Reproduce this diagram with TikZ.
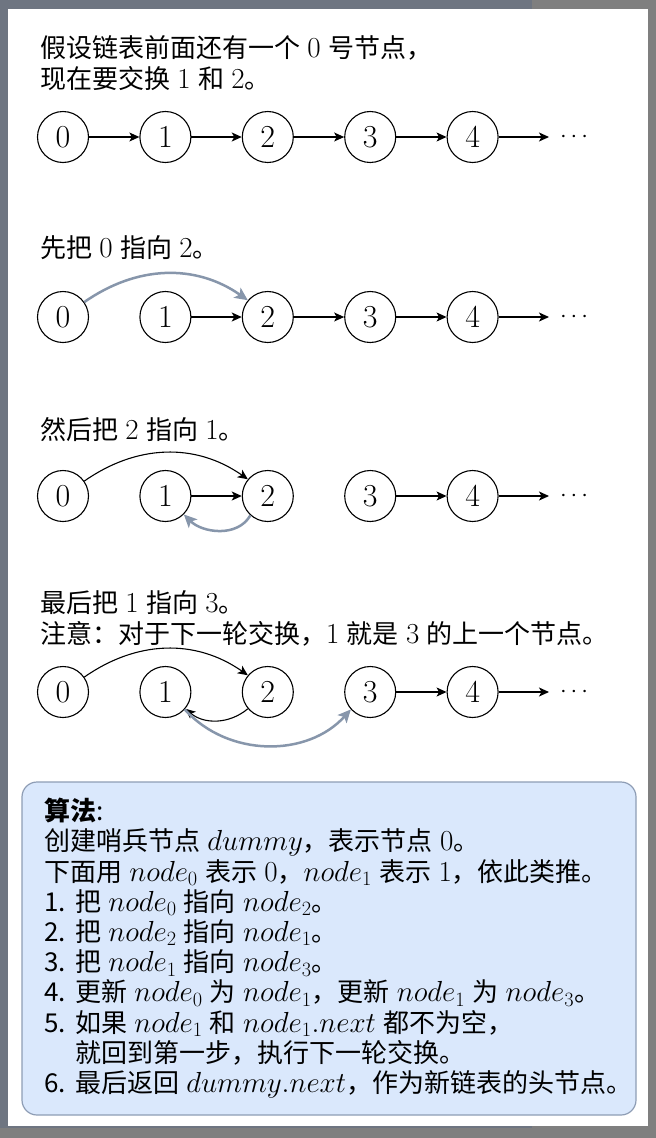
\RequirePackage{fix-cm}
\documentclass[tikz,border=0pt]{standalone}
\usepackage[no-math]{fontspec}
\setmainfont{Noto Sans CJK SC}[WordSpace=1.25]
\usetikzlibrary{arrows.meta, positioning}
\DeclareMathSizes{26}{29}{20.3}{14.5}

\definecolor{cGrayArrow}{HTML}{8796AB}
\definecolor{cBoxFill}{HTML}{DAE8FC}
\definecolor{cBoxLine}{HTML}{8E9DB5}
\definecolor{cBgLeft}{HTML}{6E7581}
\definecolor{cBgRight}{HTML}{7F7F7F}

\tikzset{
  lnode/.style={draw, circle, minimum size=51pt, inner sep=0pt, line width=1.1pt,
    font=\fontsize{32}{32}\selectfont},
  larrow/.style={line width=1.1pt, -{Stealth[length=10pt,width=9pt,inset=2.5pt]}},
  garrow/.style={cGrayArrow, line width=2.5pt, -{Stealth[length=13pt,width=12pt,inset=3pt]}},
  ltext/.style={anchor=north west, inner sep=0pt, align=left,
    font=\fontsize{26}{31.7}\selectfont},
}

\begin{document}
\begin{tikzpicture}[x=1pt, y=1pt]
  \useasboundingbox (0,0) rectangle (656,-1138);
  %背景与白色面板
  \fill[cBgRight] (0,0) rectangle (656,-1138);
  \fill[cBgLeft] (0,0) rectangle (532,-1128);
  \fill[white] (8,-9) rectangle (648,-1126);

  %四行链表节点
  \foreach \r/\yy in {1/-137, 2/-317, 3/-496, 4/-692}
  {
    \foreach \i in {0,...,4}
    {
      \node[lnode] (n\r\i) at ({63+102.4*\i}, \yy) {$\i$};
    }
    \coordinate (e\r) at (549,\yy);
    \node[font=\fontsize{24}{24}\selectfont] (d\r) at (574,\yy) {$\cdots$};
    \draw[larrow] (n\r4) -- (e\r);
  };

  %说明文字
  \node[ltext] (t1) at (40,-35) {假设链表前面还有一个 $0$ 号节点，\\现在要交换 $1$ 和 $2$。};
  \node[ltext] (t2) at (40,-235) {先把 $0$ 指向 $2$。};
  \node[ltext] (t3) at (40,-417) {然后把 $2$ 指向 $1$。};
  \node[ltext] (t4) at (40,-590) {最后把 $1$ 指向 $3$。\\注意：对于下一轮交换，$1$ 就是 $3$ 的上一个节点。};

  %第一行
  \foreach \i/\j in {0/1, 1/2, 2/3, 3/4}
    \draw[larrow] (n1\i) -- (n1\j);

  %第二行：0 指向 2
  \foreach \i/\j in {1/2, 2/3, 3/4}
    \draw[larrow] (n2\i) -- (n2\j);
  \draw[garrow] (n20.35) to[out=35, in=145] (n22.140);

  %第三行：2 指向 1
  \draw[larrow] (n30.35) to[out=35, in=145] (n32.140);
  \draw[larrow] (n31) -- (n32);
  \draw[larrow] (n33) -- (n34);
  \draw[garrow] (n32.-132) to[out=-120, in=-45] (n31.-45);

  %第四行：1 指向 3
  \draw[larrow] (n40.35) to[out=35, in=145] (n42.140);
  \draw[larrow] (n42.-140) to[out=-140, in=-40] (n41.-40);
  \draw[larrow] (n43) -- (n44);
  \draw[garrow] (n41.-42) to[out=-48, in=-132] (n43.-138);

  %算法框
  \draw[cBoxLine, fill=cBoxFill, line width=1.2pt, rounded corners=15pt]
    (22,-782) rectangle (636,-1115);
  \node[ltext, font=\fontsize{26}{30.2}\selectfont] (alg) at (44,-798) {\textbf{算法}:\\
    创建哨兵节点 $dummy$，表示节点 $0$。\\
    下面用 $node_0$ 表示 $0$，$node_1$ 表示 $1$，依此类推。\\
    1. 把 $node_0$ 指向 $node_2$。\\
    2. 把 $node_2$ 指向 $node_1$。\\
    3. 把 $node_1$ 指向 $node_3$。\\
    4. 更新 $node_0$ 为 $node_1$，更新 $node_1$ 为 $node_3$。\\
    5. 如果 $node_1$ 和 $node_1.next$ 都不为空，\\
    \phantom{5. }就回到第一步，执行下一轮交换。\\
    6. 最后返回 $dummy.next$，作为新链表的头节点。};
\end{tikzpicture}
\end{document}
